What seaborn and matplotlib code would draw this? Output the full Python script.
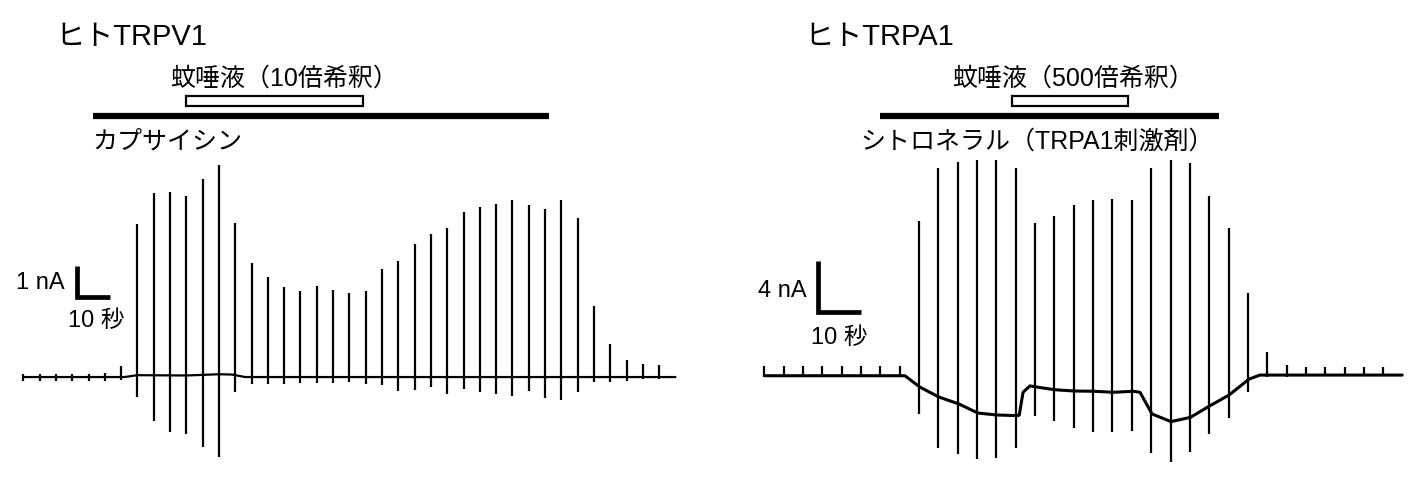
import matplotlib
matplotlib.use("Agg")
import matplotlib.pyplot as plt
import matplotlib.transforms as mtransforms
from matplotlib.patches import Rectangle
import pandas as pd
import seaborn as sns

# ---- hTRPV1 recording (left): one voltage ramp every 5 s, current in nA
v1_times = [0, 5, 10, 15, 20, 25, 30, 35, 40, 45, 50, 55, 60, 65, 70, 75, 80, 85, 90, 95,
            100, 105, 110, 115, 120, 125, 130, 135, 140, 145, 150, 155, 160, 165, 170, 175,
            180, 185, 190, 195]
v1_up = [0.10, 0.10, 0.10, 0.10, 0.10, 0.12, 0.35, 4.94, 5.93, 5.98, 5.85, 6.39, 6.84, 4.97,
         3.67, 3.24, 2.91, 2.76, 2.95, 2.82, 2.70, 2.76, 3.48, 3.75, 4.30, 4.61, 4.81, 5.33,
         5.47, 5.57, 5.70, 5.55, 5.41, 5.72, 5.12, 2.30, 1.06, 0.56, 0.41, 0.39]
v1_down = [-0.13, -0.13, -0.13, -0.13, -0.13, -0.13, -0.10, -0.65, -1.41, -1.76, -1.85, -2.27,
           -2.59, -0.47, -0.23, -0.23, -0.23, -0.20, -0.20, -0.20, -0.16, -0.23, -0.25, -0.44,
           -0.41, -0.33, -0.56, -0.39, -0.49, -0.55, -0.62, -0.44, -0.68, -0.73, -0.47, -0.16,
           -0.15, -0.12, -0.06, -0.06]
v1_base_t = [0, 31, 35, 50, 60, 64, 68, 200]
v1_base_i = [0.0, 0.0, 0.06, 0.05, 0.09, 0.08, 0.0, 0.0]
v1_capsaicin = (21.4, 161.3)
v1_saliva = (49.8, 104.1)

# ---- hTRPA1 recording (right): one ramp every 4.5 s
a1_times = [0, 4.5, 9, 13.5, 18, 22.5, 27, 31.5, 36, 40.5, 45, 49.5, 54, 58.5, 63, 67.5, 72,
            76.5, 81, 85.5, 90, 94.5, 99, 103.5, 108, 112.5, 117, 121.5, 126, 130.5, 135,
            139.5, 144]
a1_up = [0.75, 0.75, 0.75, 0.75, 0.75, 0.75, 0.75, 0.75, 12.11, 16.27, 16.78, 16.89, 16.89,
         16.27, 11.95, 12.53, 13.41, 13.80, 13.86, 13.78, 16.29, 16.92, 16.66, 14.07, 11.58,
         6.46, 1.84, 0.86, 0.66, 0.66, 0.66, 0.66, 0.66]
a1_down = [-0.1, -0.1, -0.1, -0.1, -0.1, -0.1, -0.1, -0.1, -3.00, -5.69, -6.14, -6.53, -6.45,
           -5.69, -3.14, -3.53, -4.08, -4.44, -4.44, -4.31, -6.06, -6.77, -6.01, -4.57, -3.34,
           -1.30, -0.10, -0.10, -0.05, -0.05, -0.05, -0.05, -0.05]
a1_base_t = [0, 32.7, 36.2, 40.6, 45.3, 49.7, 54.1, 58.5, 59.3, 60.2, 61.8, 63.2, 67.6, 72.1,
             76.7, 81.2, 85.8, 87.4, 90.2, 94.6, 99.1, 103.7, 108.1, 112.8, 115.3, 148.4]
a1_base_i = [0.0, 0.0, -0.89, -1.67, -2.22, -2.93, -3.08, -3.13, -3.10, -1.29, -0.80, -0.88,
             -1.10, -1.20, -1.22, -1.30, -1.22, -1.30, -3.00, -3.60, -3.27, -2.35, -1.52,
             -0.26, 0.05, 0.05]
a1_citronellal = (26.8, 105.7)
a1_saliva = (57.6, 84.7)

sns.set_theme(style="white")
plt.rcParams["font.family"] = ["Liberation Sans", "Noto Sans CJK JP", "DejaVu Sans"]
plt.rcParams["text.color"] = "black"

fig = plt.figure(figsize=(14.22, 4.81), dpi=100)
ax1 = fig.add_axes([0, 0, 0.5, 1])
ax2 = fig.add_axes([0.5, 0, 0.5, 1])


def draw_trace(ax, times, up, down, base_t, base_i, base_lw):
    base = pd.DataFrame({"t": base_t, "i": base_i})
    sns.lineplot(data=base, x="t", y="i", ax=ax, color="black", lw=base_lw,
                 sort=False, estimator=None)
    ax.vlines(times, down, up, color="black", lw=1.6)


def draw_protocol(ax, title, title_x, drug, drug_label, saliva, saliva_label):
    tr = mtransforms.blended_transform_factory(ax.transData, ax.transAxes)
    ax.text(title_x, 0.923, title, transform=ax.transAxes, fontsize=21, va="center")
    ax.plot(drug, [0.756, 0.756], transform=tr, color="black", lw=4.5,
            solid_capstyle="butt")
    ax.text(drug_label[1], 0.706, drug_label[0], transform=tr, fontsize=18, va="center")
    ax.add_patch(Rectangle((saliva[0], 0.778), saliva[1] - saliva[0], 0.02,
                           transform=tr, facecolor="white", edgecolor="black", lw=1.6))
    ax.text(saliva_label[1], 0.836, saliva_label[0], transform=tr, fontsize=18,
            va="center")


def scale_bar(ax, x0, y0, dt, di, i_label, i_lab_x, i_lab_y, t_lab_x, t_lab_y):
    ax.plot([x0, x0, x0 + dt], [y0 + di, y0, y0], color="black", lw=3.4,
            solid_joinstyle="miter", solid_capstyle="butt")
    ax.text(i_lab_x, i_lab_y, i_label, fontsize=17, ha="right", va="center")
    ax.text(t_lab_x, t_lab_y, "10 秒", fontsize=17, ha="left", va="center")


# left panel
draw_trace(ax1, v1_times, v1_up, v1_down, v1_base_t, v1_base_i, 1.6)
draw_protocol(ax1, "ヒトTRPV1", 0.078, v1_capsaicin, ("カプサイシン", 21.0),
              v1_saliva, ("蚊唾液（10倍希釈）", 45.0))
scale_bar(ax1, 16.5, 2.58, 10, 1, "1 nA", 12.6, 3.05, 13.6, 1.85)
ax1.set_xlim(-7.15, 210.9)
ax1.set_ylim(-3.32, 12.19)

# right panel
draw_trace(ax2, a1_times, a1_up, a1_down, a1_base_t, a1_base_i, 2.2)
draw_protocol(ax2, "ヒトTRPA1", 0.131, a1_citronellal, ("シトロネラル（TRPA1刺激剤）", 22.3),
              a1_saliva, ("蚊唾液（500倍希釈）", 43.7))
scale_bar(ax2, 12.4, 5.02, 10, 4, "4 nA", 9.9, 6.75, 10.9, 3.05)
ax2.set_xlim(-12.4, 153.0)
ax2.set_ylim(-8.18, 29.55)

for ax in (ax1, ax2):
    ax.set_axis_off()

fig.savefig("out.png", dpi=100, facecolor="white")
